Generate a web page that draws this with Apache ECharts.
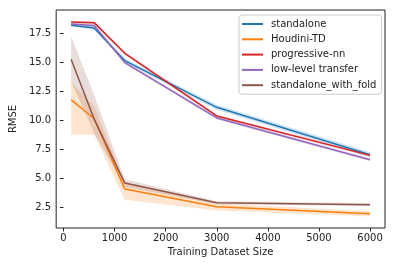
<!DOCTYPE html>
<html><head><meta charset="utf-8">
<script src="https://cdn.jsdelivr.net/npm/echarts@6/dist/echarts.min.js"></script>
<style>html,body{margin:0;padding:0;background:#fff}#c{width:396px;height:266px}</style>
</head><body><div id="c"></div>
<script>
const xs = [150, 600, 1200, 3000, 6000];
const seriesNames = ['standalone', 'Houdini-TD', 'progressive-nn', 'low-level transfer', 'standalone_with_fold'];
const colors = ['#1f77b4', '#ff7f0e', '#d62728', '#9467bd', '#8c564b'];

const standalone     = [18.2, 17.95, 15.14, 11.11, 7.02];
const standaloneLo   = [18.08, 17.82, 14.98, 10.9, 6.8];
const standaloneHi   = [18.32, 18.08, 15.3, 11.32, 7.25];

const houdini        = [11.75, 10.14, 4.05, 2.52, 1.92];
const houdiniLo      = [8.75, 8.75, 3.13, 2.2, 1.68];
const houdiniHi      = [13.3, 11.2, 4.6, 2.8, 2.15];

const progressive    = [18.47, 18.42, 15.77, 10.36, 6.96];
const progressiveLo  = [18.37, 18.3, 15.65, 10.25, 6.85];
const progressiveHi  = [18.57, 18.54, 15.9, 10.47, 7.07];

const lowLevel       = [18.3, 18.17, 14.97, 10.19, 6.58];
const lowLevelLo     = [18.18, 18.05, 14.82, 10.05, 6.45];
const lowLevelHi     = [18.42, 18.3, 15.12, 10.33, 6.72];

const withFold       = [15.26, 10.1, 4.57, 2.87, 2.7];
const withFoldLo     = [13.3, 8.9, 4.25, 2.75, 2.58];
const withFoldHi     = [17.25, 12.2, 4.9, 3.0, 2.85];

const xTicks = [0, 1000, 2000, 3000, 4000, 5000, 6000];
const yTicks = [2.5, 5.0, 7.5, 10.0, 12.5, 15.0, 17.5];

const mids = [standalone, houdini, progressive, lowLevel, withFold];
const los = [standaloneLo, houdiniLo, progressiveLo, lowLevelLo, withFoldLo];
const his = [standaloneHi, houdiniHi, progressiveHi, lowLevelHi, withFoldHi];

const series = [];
seriesNames.forEach((name, i) => {
  const rows = xs.map((x, j) => [x, los[i][j], his[i][j]]);
  series.push({
    name: name + '_band', type: 'custom', silent: true, z: 1,
    data: rows,
    encode: { x: 0, y: [1, 2] },
    renderItem: function (params, api) {
      if (params.dataIndex !== 0) return null;
      const top = rows.map(r => api.coord([r[0], r[2]]));
      const bot = rows.slice().reverse().map(r => api.coord([r[0], r[1]]));
      return {
        type: 'polygon',
        shape: { points: top.concat(bot) },
        style: { fill: colors[i], opacity: 0.2 }
      };
    }
  });
});
seriesNames.forEach((name, i) => {
  series.push({
    name: name, type: 'line', symbol: 'none', color: colors[i],
    lineStyle: { color: colors[i], width: 1.5 },
    data: xs.map((x, j) => [x, mids[i][j]]), z: 3 + i
  });
});

const font = 'DejaVu Sans';
const chart = echarts.init(document.getElementById('c'));
chart.setOption({
  animation: false,
  backgroundColor: '#fff',
  grid: { left: 52, right: 11, top: 10, bottom: 38, show: true, borderColor: '#222', borderWidth: 1, backgroundColor: 'transparent' },
  legend: {
    data: seriesNames, left: 239, top: 15, orient: 'vertical',
    icon: 'rect', itemWidth: 21, itemHeight: 2, itemGap: 3.3,
    padding: [3, 5, 3, 3], borderColor: '#cccccc', borderWidth: 1, borderRadius: 3,
    backgroundColor: 'rgba(255,255,255,0.8)',
    textStyle: { fontFamily: font, fontSize: 10, color: '#222', lineHeight: 12, padding: [0, 0, 0, 3] }
  },
  xAxis: {
    type: 'value', min: -142.5, max: 6292.5,
    name: 'Training Dataset Size', nameLocation: 'middle', nameGap: 19,
    nameTextStyle: { fontFamily: font, fontSize: 10, color: '#222' },
    axisLine: { show: false },
    axisTick: { show: true, length: 3.5, lineStyle: { color: '#222', width: 1 }, customValues: xTicks },
    axisLabel: { fontFamily: font, fontSize: 10, color: '#222', margin: 5, customValues: xTicks, formatter: v => String(v) },
    splitLine: { show: false }
  },
  yAxis: {
    type: 'value', min: 0.69, max: 19.51,
    name: 'RMSE', nameLocation: 'middle', nameGap: 35, nameRotate: 90,
    nameTextStyle: { fontFamily: font, fontSize: 10, color: '#222' },
    axisLine: { show: false },
    axisTick: { show: true, length: 3.5, lineStyle: { color: '#222', width: 1 }, customValues: yTicks },
    axisLabel: { fontFamily: font, fontSize: 10, color: '#222', margin: 5, customValues: yTicks, formatter: v => v.toFixed(1) },
    splitLine: { show: false }
  },
  series: series
});
</script></body></html>
